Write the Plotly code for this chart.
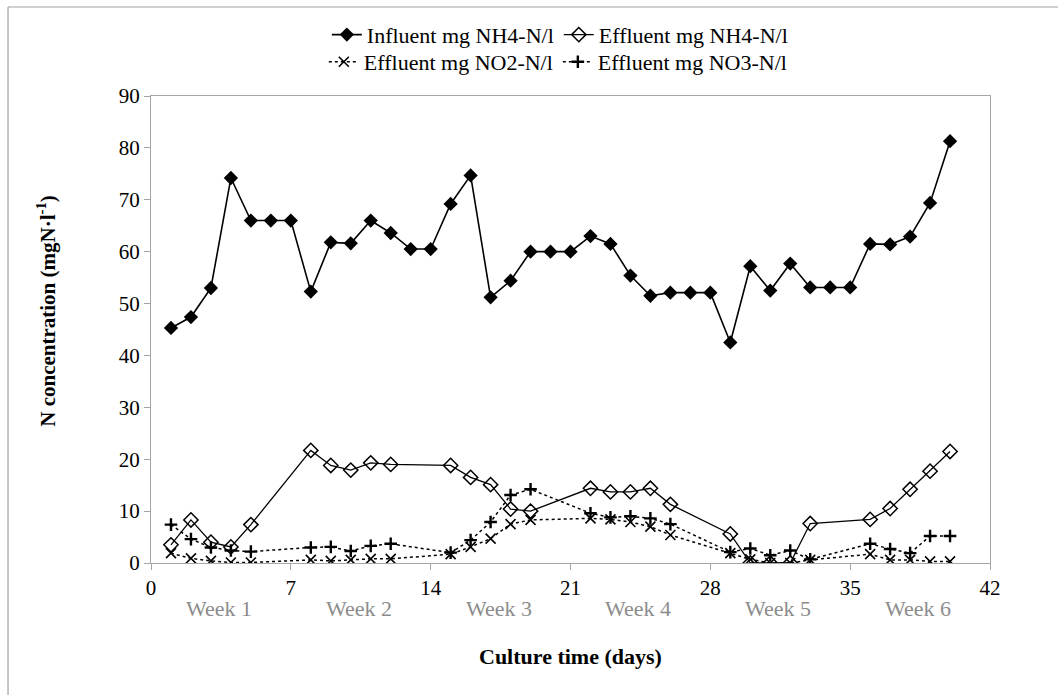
import plotly.graph_objects as go

# ---- data ----
influent_days = list(range(1, 41))
influent_nh4 = [45.3, 47.4, 53.0, 74.2, 66.0, 66.0, 66.0, 52.3, 61.8, 61.6,
                66.0, 63.6, 60.5, 60.5, 69.2, 74.7, 51.2, 54.4, 60.0, 60.0,
                60.0, 63.0, 61.5, 55.4, 51.5, 52.1, 52.1, 52.1, 42.5, 57.2,
                52.5, 57.7, 53.1, 53.1, 53.1, 61.5, 61.4, 62.9, 69.4, 81.3]

eff_days = [1, 2, 3, 4, 5, 8, 9, 10, 11, 12, 15, 16, 17, 18, 19, 22, 23, 24, 25, 26,
            29, 30, 31, 32, 33, 36, 37, 38, 39, 40]
eff_nh4 = [3.5, 8.3, 4.0, 3.1, 7.4, 21.7, 18.8, 17.9, 19.3, 19.0,
           18.8, 16.5, 15.1, 10.4, 10.0, 14.4, 13.7, 13.7, 14.4, 11.3,
           5.6, 0.0, 0.0, 0.0, 7.6, 8.4, 10.5, 14.2, 17.7, 21.5]
eff_no2 = [1.9, 0.9, 0.4, 0.1, 0.1, 0.6, 0.4, 0.6, 0.8, 0.8,
           1.7, 3.1, 4.7, 7.5, 8.3, 8.6, 8.4, 7.9, 7.0, 5.4,
           1.9, 0.7, 0.0, 0.0, 0.6, 1.7, 0.6, 0.6, 0.3, 0.3]
eff_no3 = [7.4, 4.6, 3.0, 2.4, 2.2, 3.0, 3.1, 2.3, 3.3, 3.7,
           2.0, 4.4, 7.9, 13.1, 14.2, 9.6, 8.8, 9.0, 8.6, 7.5,
           2.1, 2.8, 1.5, 2.4, 0.7, 3.7, 2.7, 1.9, 5.2, 5.2]

series_names = ["Influent mg NH4-N/l", "Effluent mg NH4-N/l",
                "Effluent mg NO2-N/l", "Effluent mg NO3-N/l"]
x_ticks = [0, 7, 14, 21, 28, 35, 42]
y_ticks = [0, 10, 20, 30, 40, 50, 60, 70, 80, 90]
week_labels = ["Week 1", "Week 2", "Week 3", "Week 4", "Week 5", "Week 6"]

FONT = "Liberation Serif, Times New Roman, serif"
AXIS_GREY = "#a6a6a6"

fig = go.Figure()
fig.add_trace(go.Scatter(
    x=influent_days, y=influent_nh4, name=series_names[0], mode="lines+markers",
    line=dict(color="black", width=1.6),
    marker=dict(symbol="diamond", size=11, color="black"),
    legend="legend"))
fig.add_trace(go.Scatter(
    x=eff_days, y=eff_nh4, name=series_names[1], mode="lines+markers",
    line=dict(color="black", width=1.3),
    marker=dict(symbol="diamond-open", size=11, color="black", line=dict(width=1.5)),
    legend="legend"))
fig.add_trace(go.Scatter(
    x=eff_days, y=eff_no2, name=series_names[2], mode="lines+markers",
    line=dict(color="black", width=1.5, dash="dot"),
    marker=dict(symbol="x-thin", size=10, color="black", line=dict(width=1.6, color="black")),
    legend="legend2"))
fig.add_trace(go.Scatter(
    x=eff_days, y=eff_no3, name=series_names[3], mode="lines+markers",
    line=dict(color="black", width=1.5, dash="dot"),
    marker=dict(symbol="cross-thin", size=9, color="black", line=dict(width=2.4, color="black")),
    legend="legend2"))

annotations = []
for i, w in enumerate(week_labels):
    annotations.append(dict(
        x=7 * i + 3.4, y=-0.097, xref="x", yref="paper", text=w, showarrow=False,
        font=dict(family=FONT, size=22, color="#8c8c8c"), xanchor="center", yanchor="middle"))
annotations.append(dict(
    x=0.5, y=-0.201, xref="paper", yref="paper", text="<b>Culture time (days)</b>",
    showarrow=False, font=dict(family=FONT, size=22, color="black"),
    xanchor="center", yanchor="middle"))
annotations.append(dict(
    x=-0.124, y=0.54, xref="paper", yref="paper",
    text="<b>N concentration (mgN·l<sup>-1</sup>)</b>", textangle=-90,
    showarrow=False, font=dict(family=FONT, size=21, color="black"),
    xanchor="center", yanchor="middle"))

legend_common = dict(orientation="h", xanchor="right", yanchor="middle",
                     font=dict(family=FONT, size=22, color="black"),
                     bgcolor="rgba(0,0,0,0)", itemwidth=30, tracegroupgap=0)

fig.update_layout(
    width=1058, height=695,
    margin=dict(l=151, r=68, t=96, b=132),
    paper_bgcolor="white", plot_bgcolor="white",
    font=dict(family=FONT, color="black"),
    showlegend=True,
    legend=dict(x=0.765, y=1.131, **legend_common),
    legend2=dict(x=0.765, y=1.073, **legend_common),
    annotations=annotations,
    shapes=[
        dict(type="line", xref="paper", yref="paper", x0=-0.1704, x1=-0.1704,
             y0=1.1906, y1=-0.4, line=dict(color="#a0a0a0", width=1.2)),
        dict(type="line", xref="paper", yref="paper", x0=-0.1704, x1=1.2,
             y0=1.1906, y1=1.1906, line=dict(color="#a0a0a0", width=1.2)),
    ],
)
fig.update_xaxes(range=[0, 42], tickvals=x_ticks, ticktext=[str(t) for t in x_ticks],
                 showgrid=False, zeroline=False, showline=True, linecolor=AXIS_GREY,
                 linewidth=1.3, mirror=True, ticks="outside", ticklen=6, tickcolor=AXIS_GREY,
                 tickfont=dict(family=FONT, size=21, color="black"))
fig.update_yaxes(range=[0, 90], tickvals=y_ticks, showgrid=False, zeroline=False,
                 showline=True, linecolor=AXIS_GREY, linewidth=1.3, mirror=True,
                 ticks="outside", ticklen=6, tickcolor=AXIS_GREY,
                 tickfont=dict(family=FONT, size=21, color="black"))

fig.write_html("out.html")
